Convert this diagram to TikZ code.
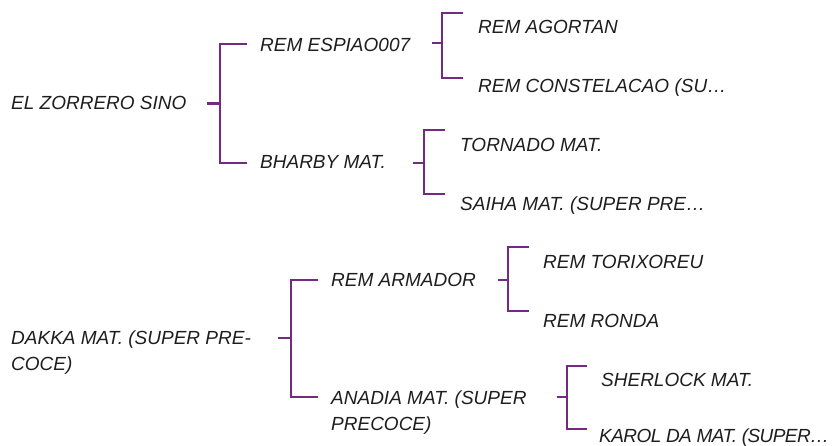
\documentclass[tikz,border=0pt]{standalone}
\usepackage{fontspec}
\setmainfont{Liberation Sans}
\definecolor{brk}{HTML}{742A82}
\definecolor{txt}{HTML}{1E1E1E}
\tikzset{
  lbl/.style={anchor=base west, inner sep=0pt, text=txt, align=left,
    font=\itshape\fontsize{19}{26}\selectfont},
  tight/.style={font=\itshape\fontsize{19}{26}\selectfont\addfontfeatures{LetterSpace=-3}},
  brline/.style={draw=brk, line width=2.9pt, line join=miter, line cap=butt},
}
\begin{document}
\begin{tikzpicture}[x=1pt,y=-1pt]
\useasboundingbox (0,0) rectangle (840,445);
% ---------- top tree ----------
\node[lbl] (zorrero) at (11,109) {EL ZORRERO SINO};
\node[lbl] (espiao) at (260,51) {REM ESPIAO007};
\node[lbl] (bharby) at (260,168) {BHARBY MAT.};
\node[lbl] (agortan) at (478,33) {REM AGORTAN};
\node[lbl] (constel) at (478,92) {REM CONSTELACAO (SU\ldots};
\node[lbl] (tornado) at (460,151) {TORNADO MAT.};
\node[lbl] (saiha) at (460,210) {SAIHA MAT. (SUPER PRE\ldots};
% ---------- bottom tree ----------
\node[lbl] (dakka) at (11,370) {DAKKA MAT. (SUPER PRE-\\COCE)};
\node[lbl] (armador) at (331,286) {REM ARMADOR};
\node[lbl] (anadia) at (331,430) {ANADIA MAT. (SUPER\\PRECOCE)};
\node[lbl] (torixoreu) at (543,268) {REM TORIXOREU};
\node[lbl] (ronda) at (543,327) {REM RONDA};
\node[lbl] (sherlock) at (601,386) {SHERLOCK MAT.};
\node[lbl,tight] (karol) at (599,442) {KAROL DA MAT. (SUPER\ldots};
% ---------- brackets ----------
% zorrero -> espiao / bharby
\coordinate (z1) at (207,103.5);
\coordinate (z2) at (247,44);
\coordinate (z3) at (247,163);
\draw[brline] (z1) -- (220,103.5);
\draw[brline] (z2) -- (220,44) -- (220,163) -- (z3);
% espiao -> agortan / constel
\coordinate (e1) at (432,43);
\coordinate (e2) at (463,13);
\coordinate (e3) at (463,78);
\draw[brline] (e1) -- (442,43);
\draw[brline] (e2) -- (442,13) -- (442,78) -- (e3);
% bharby -> tornado / saiha
\coordinate (b1) at (413,163);
\coordinate (b2) at (445,130);
\coordinate (b3) at (445,194);
\draw[brline] (b1) -- (424,163);
\draw[brline] (b2) -- (424,130) -- (424,194) -- (b3);
% dakka -> armador / anadia
\coordinate (d1) at (278,338);
\coordinate (d2) at (318,280);
\coordinate (d3) at (318,397);
\draw[brline] (d1) -- (291,338);
\draw[brline] (d2) -- (291,280) -- (291,397) -- (d3);
% armador -> torixoreu / ronda
\coordinate (a1) at (498,280);
\coordinate (a2) at (529,247);
\coordinate (a3) at (529,311);
\draw[brline] (a1) -- (508,280);
\draw[brline] (a2) -- (508,247) -- (508,311) -- (a3);
% anadia -> sherlock / karol
\coordinate (n1) at (557,397);
\coordinate (n2) at (587,366);
\coordinate (n3) at (587,429);
\draw[brline] (n1) -- (567,397);
\draw[brline] (n2) -- (567,366) -- (567,429) -- (n3);
\end{tikzpicture}
\end{document}
